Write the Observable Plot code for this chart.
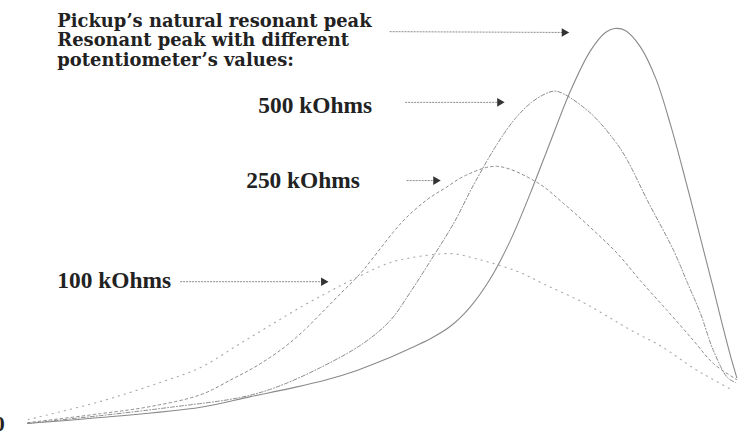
<!DOCTYPE html>
<html>
<head>
<meta charset="utf-8">
<script src="https://cdn.jsdelivr.net/npm/d3@7"></script>
<script src="https://cdn.jsdelivr.net/npm/@observablehq/plot@0.6"></script>
<style>
  html, body { margin: 0; padding: 0; background: #fff; }
  #chart svg { display: block; }
</style>
</head>
<body>
<div id="chart"></div>
<script>
// Relative frequency (0–100) and relative amplitude (0–100)
const pickupX = [0, 10.3, 24.4, 31.4, 37.0, 42.0, 46.5, 50.5, 53.5, 56.8, 59.7, 62.4, 65.2, 68.0, 70.8, 73.7, 76.5, 79.3, 81.4, 82.7, 84.2, 86.3, 88.5, 90.6, 92.7, 94.8, 96.5, 97.9, 99.0, 99.9];
const pickupY = [0, 1.5, 4.1, 6.8, 8.9, 11.0, 13.5, 16.3, 18.7, 21.5, 24.8, 29.6, 36.7, 46.3, 58.2, 71.6, 84.3, 94.4, 99.0, 100, 99.5, 95.4, 87.3, 75.4, 61.5, 46.8, 34.9, 24.8, 17.2, 11.6];

const k500X = [0, 10.3, 20.1, 30.0, 34.9, 41.3, 47.3, 51.1, 53.9, 56.8, 60.0, 62.8, 66.2, 68.7, 71.0, 73.0, 74.5, 78.9, 82.7, 84.5, 87.3, 91.0, 93.0, 94.8, 96.6, 98.6, 99.7];
const k500Y = [0, 2.0, 4.1, 6.6, 9.1, 14.2, 20.3, 26.1, 33.2, 41.3, 50.6, 60.3, 70.9, 77.2, 81.3, 83.5, 84.1, 79.2, 71.6, 66.6, 56.5, 43.8, 35.4, 27.8, 18.5, 11.6, 10.4];

const k250X = [0, 10.3, 17.3, 24.4, 29.0, 32.4, 36.1, 38.9, 41.3, 44.1, 46.9, 48.7, 51.5, 53.4, 56.3, 58.9, 61.7, 66.1, 71.8, 75.5, 79.3, 83.1, 86.3, 90.1, 93.8, 96.6, 99.9];
const k250Y = [0.2, 2.5, 4.3, 7.3, 11.4, 14.7, 19.2, 23.5, 27.8, 32.9, 38.0, 42.0, 48.4, 52.2, 56.7, 59.7, 62.8, 65.1, 61.0, 55.7, 49.6, 43.0, 36.2, 28.6, 21.0, 15.2, 11.1];

const k100X = [0.1, 10.3, 18.7, 24.4, 30.0, 34.6, 38.9, 42.3, 45.5, 50.7, 53.5, 59.7, 63.0, 69.0, 73.2, 78.0, 81.7, 85.1, 89.3, 93.9, 96.3, 99.3];
const k100Y = [1.0, 5.6, 10.4, 14.2, 20.3, 25.3, 29.9, 33.2, 36.2, 40.5, 41.8, 43.0, 41.8, 38.5, 34.9, 30.9, 27.1, 23.5, 19.5, 13.9, 11.4, 8.4];

const headerLines = ["Pickup\u2019s natural resonant peak", "Resonant peak with different", "potentiometer\u2019s values:"];
const headerY = [100.3, 95.5, 90.6];
const headerX = 4.2;

const potLabels = ["500 kOhms", "250 kOhms", "100 kOhms"];
const potLabelX = [32.5, 30.8, 4.2];
const potLabelY = [78.5, 59.5, 34.2];

// annotation arrows (from label to curve), data units
const arrowX1 = [51.0, 53.2, 53.4, 21.5];
const arrowX2 = [75.6, 66.5, 57.5, 41.7];
const arrowY1 = [99.2, 81.3, 61.5, 35.9];
const arrowY2 = [99.0, 81.3, 61.5, 35.9];

const zeroLabel = ["0"];

const toRows = (xs, ys) => xs.map((x, i) => ({x, y: ys[i]}));
const pickup = toRows(pickupX, pickupY);
const k500 = toRows(k500X, k500Y);
const k250 = toRows(k250X, k250Y);
const k100 = toRows(k100X, k100Y);
const header = headerLines.map((t, i) => ({t, x: headerX, y: headerY[i]}));
const pots = potLabels.map((t, i) => ({t, x: potLabelX[i], y: potLabelY[i]}));
const arrows = arrowX1.map((x1, i) => ({x1, x2: arrowX2[i], y1: arrowY1[i], y2: arrowY2[i]}));

const chart = Plot.plot({
  width: 748,
  height: 436,
  marginLeft: 27,
  marginRight: 11,
  marginTop: 28,
  marginBottom: 13,
  x: {domain: [0, 100], axis: null},
  y: {domain: [0, 100], axis: null},
  style: {background: "#fff", overflow: "visible"},
  marks: [
    Plot.line(k100, {x: "x", y: "y", curve: "catmull-rom", stroke: "#a8a8a8", strokeWidth: 1.1, strokeDasharray: "1.2,5"}),
    Plot.line(k250, {x: "x", y: "y", curve: "catmull-rom", stroke: "#8c8c8c", strokeWidth: 1, strokeDasharray: "2.5,3"}),
    Plot.line(k500, {x: "x", y: "y", curve: "catmull-rom", stroke: "#8c8c8c", strokeWidth: 1, strokeDasharray: "4,2,1,2"}),
    Plot.line(pickup, {x: "x", y: "y", curve: "catmull-rom", stroke: "#8a8a8a", strokeWidth: 1.1}),
    Plot.link(arrows, {x1: "x1", y1: "y1", x2: "x2", y2: "y2", stroke: "#8a8a8a", strokeWidth: 1, strokeDasharray: "2,1"}),
    Plot.dot(arrows, {x: "x2", y: "y2", symbol: "triangle", r: 3.2, rotate: 90, fill: "#333", stroke: "none"}),
    Plot.text(header, {x: "x", y: "y", text: "t", textAnchor: "start", lineAnchor: "bottom", fontFamily: "DejaVu Serif", fontWeight: "bold", fontSize: 17.9, fill: "#222"}),
    Plot.text(pots, {x: "x", y: "y", text: "t", textAnchor: "start", lineAnchor: "bottom", fontFamily: "Liberation Serif", fontWeight: "bold", fontSize: 23.4, fill: "#222"}),
    Plot.text(zeroLabel, {x: -3.2, y: -1.8, text: d => d, textAnchor: "end", lineAnchor: "bottom", fontFamily: "Liberation Serif", fontWeight: "bold", fontSize: 22, fill: "#222"})
  ]
});
document.getElementById("chart").appendChild(chart);
</script>
</body>
</html>
